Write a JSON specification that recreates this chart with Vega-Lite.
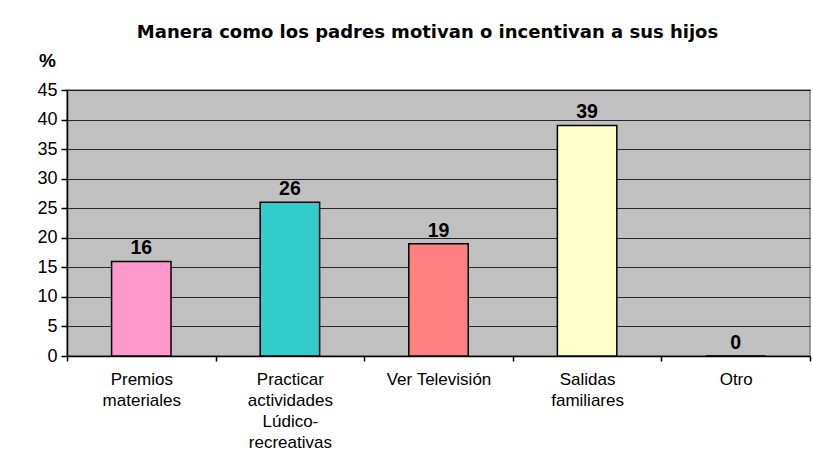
{
  "$schema": "https://vega.github.io/schema/vega-lite/v6.json",
  "width": 743,
  "height": 266,
  "autosize": {"type": "none"},
  "padding": {"left": 67, "top": 90, "right": 3, "bottom": 115},
  "background": "white",
  "title": {
    "text": "Manera como los padres motivan o incentivan a sus hijos",
    "font": "DejaVu Sans",
    "fontSize": 18,
    "fontWeight": "bold",
    "color": "black",
    "anchor": "middle",
    "frame": "group",
    "dx": -11,
    "offset": 9
  },
  "data": {
    "values": [
      {"categoria": "Premios materiales", "porcentaje": 16},
      {"categoria": "Practicar actividades Lúdico-recreativas", "porcentaje": 26},
      {"categoria": "Ver Televisión", "porcentaje": 19},
      {"categoria": "Salidas familiares", "porcentaje": 39},
      {"categoria": "Otro", "porcentaje": 0}
    ]
  },
  "encoding": {
    "x": {
      "field": "categoria",
      "type": "nominal",
      "sort": null,
      "scale": {"paddingInner": 0, "paddingOuter": 0},
      "axis": {
        "title": null,
        "labelAngle": 0,
        "tickBand": "extent",
        "labelExpr": "datum.label == 'Practicar actividades Lúdico-recreativas' ? ['Practicar', 'actividades', 'Lúdico-', 'recreativas'] : datum.label == 'Ver Televisión' ? 'Ver Televisión' : split(datum.label, ' ')",
        "labelFont": "Liberation Sans",
        "labelFontSize": 17,
        "labelColor": "black",
        "labelLineHeight": 21,
        "labelPadding": 10,
        "labelBaseline": "top",
        "domainColor": "black",
        "domainWidth": 1.5,
        "tickColor": "black",
        "tickWidth": 1.5,
        "tickSize": 5,
        "grid": false
      }
    },
    "y": {
      "field": "porcentaje",
      "type": "quantitative",
      "scale": {"domain": [0, 45], "nice": false},
      "axis": {
        "values": [0, 5, 10, 15, 20, 25, 30, 35, 40, 45],
        "labelOverlap": false,
        "title": "%",
        "titleAngle": 0,
        "titleX": -20,
        "titleY": -30,
        "titleAlign": "center",
        "titleBaseline": "middle",
        "titleFont": "Liberation Sans",
        "titleFontSize": 19,
        "titleFontWeight": "bold",
        "titleColor": "black",
        "labelFont": "Liberation Sans",
        "labelFontSize": 18,
        "labelColor": "black",
        "labelPadding": 4,
        "domainColor": "black",
        "domainWidth": 1.5,
        "tickColor": "black",
        "tickWidth": 1.5,
        "tickSize": 6,
        "grid": true,
        "gridColor": "black",
        "gridWidth": 1,
        "gridOpacity": 0.8
      }
    }
  },
  "layer": [
    {
      "mark": {"type": "bar", "width": {"band": 0.4}, "stroke": "black", "strokeWidth": 1.5},
      "encoding": {
        "color": {
          "field": "categoria",
          "type": "nominal",
          "scale": {
            "domain": ["Premios materiales", "Practicar actividades Lúdico-recreativas", "Ver Televisión", "Salidas familiares", "Otro"],
            "range": ["#FF99CC", "#33CCCC", "#FF8080", "#FFFFCC", "#9999FF"]
          },
          "legend": null
        }
      }
    },
    {
      "mark": {"type": "text", "baseline": "bottom", "dy": -3, "font": "Liberation Sans", "fontSize": 19.5, "fontWeight": "bold", "color": "black"},
      "encoding": {
        "text": {"field": "porcentaje", "type": "quantitative"}
      }
    }
  ],
  "config": {
    "view": {"fill": "#C0C0C0", "stroke": "#808080", "strokeWidth": 1.5}
  }
}
